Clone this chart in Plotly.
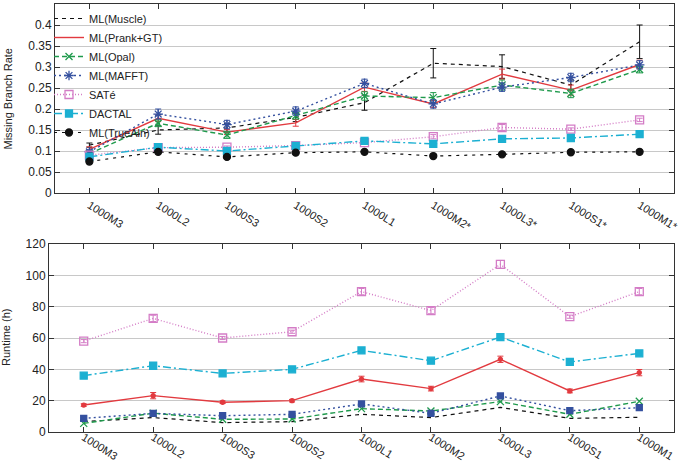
import plotly.graph_objects as go

cats_top = ["1000M3", "1000L2", "1000S3", "1000S2", "1000L1", "1000M2*", "1000L3*", "1000S1*", "1000M1*"]
cats_bot = ["1000M3", "1000L2", "1000S3", "1000S2", "1000L1", "1000M2", "1000L3", "1000S1", "1000M1"]
ticks_top = [0, 0.05, 0.1, 0.15, 0.2, 0.25, 0.3, 0.35, 0.4, 0.45]
ticklabels_top = ["0", "0.05", "0.1", "0.15", "0.2", "0.25", "0.3", "0.35", "0.4", "0.45"]
ticks_bot = [0, 20, 40, 60, 80, 100, 120]

# Missing branch rate (top)
mbr_muscle = [0.114, 0.150, 0.155, 0.180, 0.215, 0.309, 0.301, 0.257, 0.360]
mbr_muscle_err = [0.005, 0.010, 0.010, 0.010, 0.018, 0.035, 0.028, 0.012, 0.040]
mbr_prank = [0.104, 0.178, 0.145, 0.167, 0.252, 0.212, 0.283, 0.245, 0.306]
mbr_prank_err = [0.006, 0.008, 0.006, 0.008, 0.010, 0.008, 0.012, 0.012, 0.010]
mbr_opal = [0.094, 0.166, 0.138, 0.184, 0.231, 0.227, 0.257, 0.237, 0.294]
mbr_opal_err = [0.005, 0.008, 0.008, 0.008, 0.010, 0.012, 0.012, 0.010, 0.008]
mbr_mafft = [0.098, 0.188, 0.163, 0.195, 0.261, 0.212, 0.252, 0.275, 0.305]
mbr_mafft_err = [0.005, 0.012, 0.010, 0.010, 0.010, 0.010, 0.010, 0.010, 0.010]
mbr_sate = [0.090, 0.108, 0.109, 0.113, 0.120, 0.134, 0.156, 0.152, 0.174]
mbr_sate_err = [0.003, 0.003, 0.003, 0.003, 0.003, 0.005, 0.007, 0.003, 0.004]
mbr_dactal = [0.086, 0.109, 0.100, 0.112, 0.124, 0.117, 0.129, 0.131, 0.140]
mbr_truealn = [0.075, 0.098, 0.086, 0.096, 0.098, 0.088, 0.092, 0.097, 0.098]

# Runtime in hours (bottom)
rt_muscle = [6.6, 9.2, 6.0, 6.6, 11.3, 9.2, 15.7, 8.7, 9.4]
rt_prank = [17.2, 23.2, 19.0, 20.0, 33.8, 27.7, 46.4, 26.2, 37.9]
rt_prank_err = [0.8, 2.0, 0.8, 0.8, 1.8, 1.5, 2.0, 1.2, 2.0]
rt_opal = [5.5, 12.0, 8.1, 8.3, 14.9, 13.4, 19.4, 11.3, 19.6]
rt_mafft = [8.7, 11.9, 10.4, 11.3, 17.9, 11.9, 23.0, 13.6, 15.5]
rt_sate = [58.0, 72.5, 60.0, 64.0, 89.6, 77.5, 107.0, 73.6, 89.6]
rt_sate_err = [1.0, 2.0, 1.0, 1.0, 2.0, 2.0, 2.5, 1.0, 2.0]
rt_dactal = [36.0, 42.3, 37.4, 40.0, 52.1, 45.5, 60.6, 44.7, 50.2]

BLACK = "#111111"
RED = "#e23a3f"
GREEN = "#1f9a4c"
BLUE = "#34509f"
PINK = "#d47cc6"
CYAN = "#1cb0d2"

FONT = "Liberation Sans, Arial, sans-serif"

series_top = [
    ("ML(Muscle)", mbr_muscle, mbr_muscle_err, BLACK, "4px,4px", None, 0, 1.2),
    ("ML(Prank+GT)", mbr_prank, mbr_prank_err, RED, "solid", None, 0, 1.4),
    ("ML(Opal)", mbr_opal, mbr_opal_err, GREEN, "5px,3px", "x-thin-open", 7, 1.4),
    ("ML(MAFFT)", mbr_mafft, mbr_mafft_err, BLUE, "2px,3px", "asterisk-open", 8, 1.4),
    ("SATé", mbr_sate, mbr_sate_err, PINK, "1px,2px", "square-open", 8, 1.4),
    ("DACTAL", mbr_dactal, None, CYAN, "8px,3px,2px,3px", "square", 7, 1.4),
    ("ML(TrueAln)", mbr_truealn, None, BLACK, "3px,5px", "circle", 7, 1.2),
]

series_bot = [
    ("ML(Muscle)", rt_muscle, None, BLACK, "4px,4px", None, 0, 1.2),
    ("ML(Prank+GT)", rt_prank, rt_prank_err, RED, "solid", "circle", 4, 1.4),
    ("ML(Opal)", rt_opal, None, GREEN, "5px,3px", "x-thin-open", 7, 1.4),
    ("ML(MAFFT)", rt_mafft, None, BLUE, "2px,3px", "square", 6, 1.4),
    ("SATé", rt_sate, rt_sate_err, PINK, "1px,2px", "square-open", 8, 1.4),
    ("DACTAL", rt_dactal, None, CYAN, "8px,3px,2px,3px", "square", 7, 1.4),
]

fig = go.Figure()


def add(series, xcats, xa, ya, showlegend):
    for name, vals, err, color, dash, sym, size, lw in series:
        mode = "lines+markers" if sym else "lines"
        tr = go.Scatter(
            x=xcats, y=vals, name=name, mode=mode,
            xaxis=xa, yaxis=ya, showlegend=showlegend,
            line=dict(color=color, width=lw, dash=dash),
            cliponaxis=False,
        )
        if sym:
            tr.marker = dict(symbol=sym, size=size, color=color,
                             line=dict(color=color, width=1.3))
        if err is not None:
            tr.error_y = dict(type="data", array=err, visible=True,
                              color=color, thickness=1, width=3)
        fig.add_trace(tr)


add(series_top, cats_top, "x", "y", True)
add(series_bot, cats_bot, "x2", "y2", False)

axis_common = dict(
    showline=True, linecolor="#333333", linewidth=1, mirror="allticks",
    ticks="inside", ticklen=5, tickcolor="#333333", automargin=False,
)

W, H = 679, 462
ml, mr, mt, mb = 49, 5, 4, 30
pw, ph = W - ml - mr, H - mt - mb

fig.update_layout(
    width=W, height=H,
    margin=dict(l=ml, r=mr, t=mt, b=mb, pad=0),
    paper_bgcolor="white", plot_bgcolor="white",
    font=dict(family=FONT, size=12, color="#222222"),
    xaxis=dict(domain=[(55 - ml) / pw, 1], anchor="y", range=[-0.5, 8.5],
               tickangle=32, tickfont=dict(size=11), showgrid=False,
               ticklabelstandoff=1, **axis_common),
    yaxis=dict(domain=[(432 - 193) / ph, 1], anchor="x", range=[0, 0.45],
               tickmode="array", tickvals=ticks_top, ticktext=ticklabels_top,
               showgrid=True, gridcolor="#c8c8c8", gridwidth=1,
               tickfont=dict(size=12), zeroline=False, **axis_common),
    xaxis2=dict(domain=[0, 1], anchor="y2", range=[-0.5, 8.5],
                tickangle=32, tickfont=dict(size=11), showgrid=False,
                ticklabelstandoff=-6, **axis_common),
    yaxis2=dict(domain=[0, (432 - 244) / ph], anchor="x2", range=[0, 120],
                tickmode="array", tickvals=ticks_bot,
                showgrid=True, gridcolor="#c8c8c8", gridwidth=1,
                tickfont=dict(size=12), zeroline=False, **axis_common),
    legend=dict(x=0.0, y=1.0, xanchor="left", yanchor="top",
                xref="paper", yref="paper",
                bgcolor="rgba(255,255,255,0)", borderwidth=0,
                font=dict(size=11, family=FONT), itemwidth=30,
                tracegroupgap=0),
    annotations=[
        dict(text="Missing Branch Rate", xref="paper", yref="paper",
             x=(8 - ml) / pw, y=((432 - 193) / ph + 1) / 2, textangle=-90,
             showarrow=False, xanchor="center", yanchor="middle",
             font=dict(size=11)),
        dict(text="Runtime (h)", xref="paper", yref="paper",
             x=(6 - ml) / pw, y=(432 - 244) / ph / 2, textangle=-90,
             showarrow=False, xanchor="center", yanchor="middle",
             font=dict(size=11)),
    ],
)

fig.write_html("out.html", config={"displayModeBar": False},
               post_script="document.body.style.margin='0px';")
